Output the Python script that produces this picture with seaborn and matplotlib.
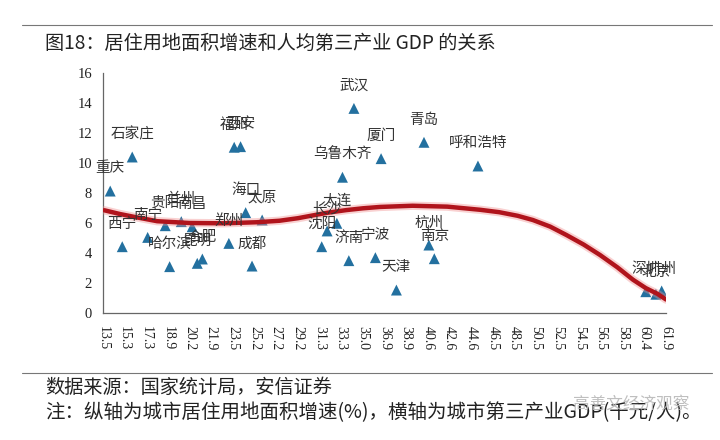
import numpy as np
import pandas as pd
import matplotlib
matplotlib.use("Agg")
import matplotlib.pyplot as plt
from matplotlib.lines import Line2D
import seaborn as sns

# ---- data ----
tick_labels = ["13.5", "15.3", "17.3", "18.9", "20.2", "21.9", "23.5", "25.2", "27.2",
               "29.2", "31.3", "33.3", "35.0", "36.9", "38.9", "40.6", "42.6", "44.6",
               "46.5", "48.5", "50.5", "52.5", "54.5", "56.5", "58.5", "60.4", "61.9"]
tick_vals = [float(t) for t in tick_labels]

cities = ["重庆", "西宁", "石家庄", "南宁", "贵阳", "哈尔滨", "兰州", "南昌", "昆明", "合肥",
          "郑州", "福州", "西安", "海口", "成都", "太原", "沈阳", "长沙", "大连", "乌鲁木齐",
          "济南", "武汉", "宁波", "厦门", "天津", "青岛", "杭州", "南京", "呼和浩特",
          "深圳", "北京", "广州"]
gdp = [14.1, 15.1, 16.0, 17.4, 18.7, 19.0, 19.7, 20.4, 20.8, 21.2,
       23.2, 23.6, 24.1, 24.5, 25.0, 25.9, 31.5, 32.0, 32.9, 33.4,
       33.9, 34.3, 36.1, 36.6, 38.0, 40.3, 40.7, 41.2, 45.2,
       60.5, 61.2, 61.6]
growth = [8.13, 4.42, 10.4, 5.04, 5.82, 3.09, 6.09, 5.75, 3.31, 3.60,
          4.64, 11.05, 11.09, 6.69, 3.13, 6.20, 4.42, 5.47, 5.98, 9.05,
          3.49, 13.64, 3.69, 10.29, 1.53, 11.38, 4.53, 3.62, 9.80,
          1.42, 1.25, 1.47]

trend_gdp = [13.6, 14.9, 16.1, 18.1, 20.2, 22.8, 25.4, 27.5, 29.2, 30.6, 32.0, 33.7,
             35.0, 36.5, 39.4, 42.4, 45.4, 47.1, 48.8, 50.2, 51.8, 53.3, 54.9, 56.4,
             58.0, 59.4, 60.5, 61.3, 61.9]
trend_growth = [6.85, 6.60, 6.42, 6.12, 6.00, 5.98, 6.05, 6.15, 6.32, 6.50, 6.68, 6.86,
                6.98, 7.07, 7.15, 7.09, 6.88, 6.72, 6.48, 6.20, 5.76, 5.20, 4.56, 3.87,
                3.05, 2.22, 1.66, 1.28, 0.90]

title = "图18：居住用地面积增速和人均第三产业 GDP 的关系"
source = "数据来源：国家统计局，安信证券"
note = "注：纵轴为城市居住用地面积增速(%)，横轴为城市第三产业GDP(千元/人)。"
watermark = "高善文经济观察"

# ---- style ----
sns.set_theme(style="white")
plt.rcParams['font.family'] = ['Noto Sans CJK SC', 'DejaVu Sans']

W, H = 720, 440
fig = plt.figure(figsize=(W / 100, H / 100), dpi=100)
ax = fig.add_axes([103 / W, 1 - 313 / H, 563 / W, 240 / H])

idx = np.arange(len(tick_vals))
df = pd.DataFrame({"city": cities,
                   "pos": np.interp(gdp, tick_vals, idx),
                   "growth": growth})
tdf = pd.DataFrame({"pos": np.interp(trend_gdp, tick_vals, idx),
                    "growth": trend_growth})

sns.scatterplot(data=df, x="pos", y="growth", marker="^", s=62, color="#23709f",
                edgecolor="none", ax=ax, zorder=3, legend=False)
sns.lineplot(data=tdf, x="pos", y="growth", color="#f08c8c", lw=6, alpha=0.4,
             ax=ax, sort=False, zorder=4, legend=False)
sns.lineplot(data=tdf, x="pos", y="growth", color="#b0141c", lw=3.2,
             ax=ax, sort=False, zorder=5, legend=False)

for _, r in df.iterrows():
    ax.annotate(r["city"], (r["pos"], r["growth"]), xytext=(0, 16.3),
                textcoords="offset points", ha="center", va="center",
                fontsize=10.5, color="#333333", zorder=6)

ax.set_xlim(0, len(tick_vals) - 1)
ax.set_ylim(0, 16)
ax.set_xticks(idx)
ax.set_xticklabels(tick_labels, rotation=270, fontfamily="Liberation Serif",
                   fontsize=10, color="#222222")
ax.set_xticks(np.arange(0, len(tick_vals) - 1 + 1e-6, 1 / 6), minor=True)
ax.set_yticks(range(0, 17, 2))
ax.set_yticklabels([str(v) for v in range(0, 17, 2)], fontfamily="Liberation Serif",
                   fontsize=10.5, color="#222222")
ax.tick_params(axis="both", which="both", direction="out", length=4, width=0.8,
               color="#666666")
ax.tick_params(axis="x", which="major", pad=5)
ax.tick_params(axis="y", pad=4)
ax.set_xlabel("")
ax.set_ylabel("")
sns.despine(ax=ax)
for s in ("left", "bottom"):
    ax.spines[s].set_color("#666666")
    ax.spines[s].set_linewidth(0.9)

# ---- frame text ----
fig.add_artist(Line2D([22 / W, 712 / W], [1 - 25 / H] * 2, color="#777777", lw=0.8))
fig.add_artist(Line2D([22 / W, 712 / W], [1 - 373 / H] * 2, color="#777777", lw=0.8))
fig.text(45 / W, 1 - 43 / H, title, fontsize=13.8, va="center", ha="left", color="#222222")
fig.text(45 / W, 1 - 387 / H, source, fontsize=13.8, va="center", ha="left", color="#222222")
fig.text(45 / W, 1 - 413 / H, note, fontsize=14, va="center", ha="left", color="#222222")
fig.text(573 / W, 1 - 404 / H, watermark, fontsize=12, va="center", ha="left",
         color="#b8b8b8", alpha=0.9)

fig.savefig("out.png", dpi=100, facecolor="white")
